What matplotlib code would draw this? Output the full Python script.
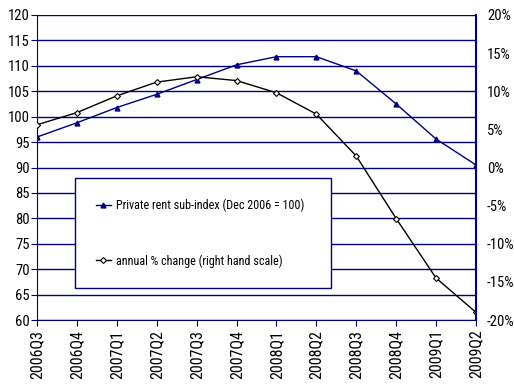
import matplotlib
matplotlib.use("Agg")
import matplotlib.pyplot as plt
from matplotlib import font_manager
from matplotlib.ticker import FuncFormatter

# pick a narrow font if one is there
narrow = 'Liberation Sans'
for name in ['Liberation Sans Narrow', 'DejaVu Sans Condensed', 'Roboto Condensed']:
    try:
        font_manager.findfont(name, fallback_to_default=False)
        narrow = name
        break
    except ValueError:
        pass
plt.rcParams['font.family'] = [narrow, 'DejaVu Sans']

quarters = ['2006Q3', '2006Q4', '2007Q1', '2007Q2', '2007Q3', '2007Q4',
            '2008Q1', '2008Q2', '2008Q3', '2008Q4', '2009Q1', '2009Q2']
rent_index = [96.0, 98.8, 101.8, 104.4, 107.3, 110.2,
              111.8, 111.8, 109.0, 102.5, 95.6, 90.5]
annual_change = [5.6, 7.2, 9.4, 11.2, 11.9, 11.4,
                 9.8, 7.0, 1.5, -6.7, -14.5, -19.0]

left_ticks = list(range(60, 121, 5))
right_ticks = list(range(-20, 21, 5))

navy = '#000080'
W, H = 514, 387

fig = plt.figure(figsize=(W / 100, H / 100), dpi=100)
ax = fig.add_axes([37 / W, 1 - 320 / H, (476 - 37) / W, (320 - 15) / H])
ax2 = ax.twinx()

x = list(range(len(quarters)))

# gridlines follow left scale
for t in left_ticks:
    ax.axhline(t, color=navy, lw=1.0, zorder=0)

l1, = ax.plot(x, rent_index, color=navy, lw=1.0, marker='^', ms=3.5,
              mfc=navy, mec=navy, label='Private rent sub-index (Dec 2006 = 100)')
l2, = ax2.plot(x, annual_change, color='black', lw=1.0, marker='D', ms=3,
               mfc='white', mec='black', mew=0.8,
               label='annual % change (right hand scale)')

ax.set_xlim(0, len(quarters) - 1)
ax.set_ylim(60, 120)
ax2.set_ylim(-20, 20)
ax.set_yticks(left_ticks)
ax2.set_yticks(right_ticks)
ax2.yaxis.set_major_formatter(FuncFormatter(lambda v, p: f"{int(v)}%"))
ax.set_xticks(x)
ax.set_xticklabels(quarters, rotation=90)

for a in (ax, ax2):
    for s in a.spines.values():
        s.set_visible(False)
ax.spines['left'].set_visible(True)
ax.spines['left'].set_color(navy)
ax.spines['bottom'].set_visible(True)
ax.spines['bottom'].set_color(navy)
ax2.spines['right'].set_visible(True)
ax2.spines['right'].set_color(navy)
ax2.spines['right'].set_linewidth(1.5)

ax.tick_params(axis='y', colors=navy, labelcolor='black', labelsize=10.5,
               length=4, pad=1)
ax.tick_params(axis='x', colors=navy, labelcolor='black', labelsize=11.5,
               length=4, pad=3)
ax2.tick_params(axis='y', length=0, labelsize=10.5, pad=8)

leg = fig.legend(handles=[l1, l2], loc='upper left',
                 bbox_to_anchor=(75 / W, 1 - 284 / H, 256 / W, 106 / H),
                 mode='expand', fontsize=8.7, frameon=True, fancybox=False,
                 framealpha=1, labelspacing=3.5, borderpad=1.7,
                 handlelength=1.3, handletextpad=0.4, borderaxespad=0)
leg.get_frame().set_edgecolor(navy)
leg.get_frame().set_linewidth(1.0)
leg.set_zorder(5)

fig.savefig('out.png', dpi=100)
